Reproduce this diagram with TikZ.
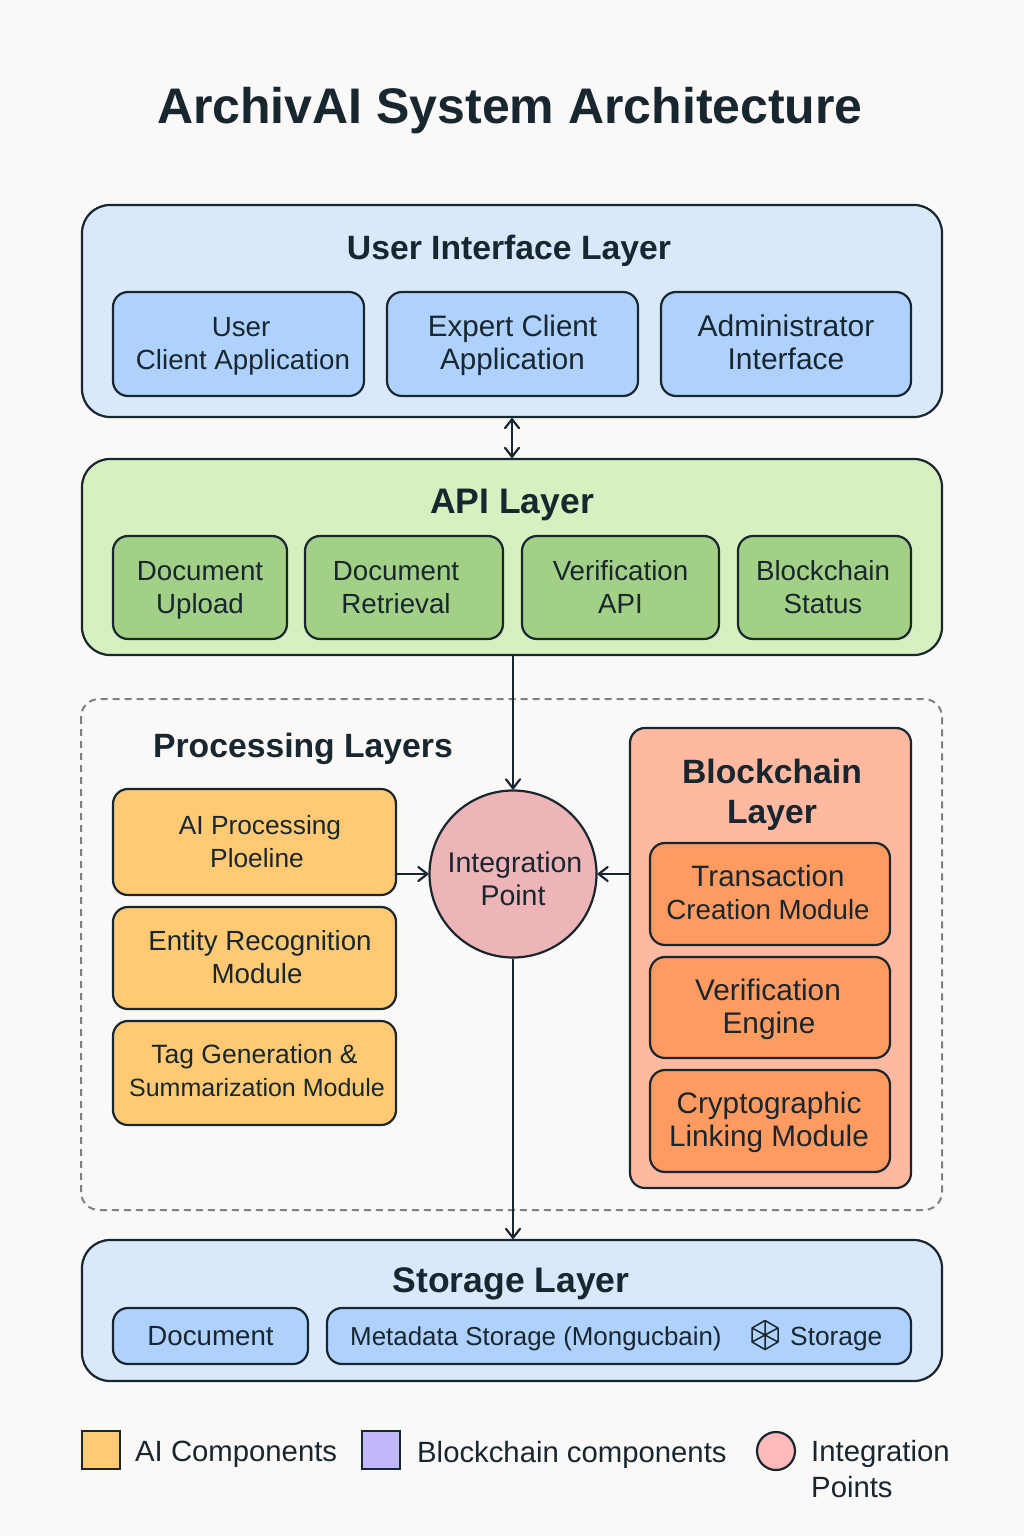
\documentclass[tikz,border=0pt]{standalone}
\usepackage{fontspec}
\setmainfont{Liberation Sans}
\usetikzlibrary{arrows.meta,calc}
\definecolor{bg}{HTML}{FBF9F7}
\definecolor{ink}{HTML}{18262F}
\definecolor{uilayer}{HTML}{D9E8FB}
\definecolor{uibox}{HTML}{AED1FD}
\definecolor{apilayer}{HTML}{D6F0C0}
\definecolor{apibox}{HTML}{A3D087}
\definecolor{aibox}{HTML}{FFCA73}
\definecolor{bclayer}{HTML}{FFB9A0}
\definecolor{bcbox}{HTML}{FF9A60}
\definecolor{ipfill}{HTML}{EDB5B8}
\definecolor{legpurple}{HTML}{C0B8F8}
\definecolor{legpink}{HTML}{FDBABA}
\definecolor{dashgray}{HTML}{808080}
\newcommand{\fsz}[1]{\fontsize{#1}{33}\selectfont}
\tikzset{
  x=1pt,y=-1pt,
  boxbase/.style={draw=ink,line width=2.2pt,rounded corners=15pt,inner sep=0pt,text=ink,align=center,font=\fontsize{27.7}{33}\selectfont},
  layerbox/.style={boxbase,rounded corners=28pt,line width=2.2pt},
  uiinner/.style={boxbase,fill=uibox},
  apiinner/.style={boxbase,fill=apibox},
  aiinner/.style={boxbase,fill=aibox},
  bcinner/.style={boxbase,fill=bcbox},
  layertitle/.style={text=ink,font=\fontsize{33.7}{40}\selectfont\bfseries,align=center,inner sep=0pt,anchor=base},
  bigtitle/.style={layertitle,font=\fontsize{35.5}{40}\selectfont\bfseries},
  plaintext/.style={text=ink,font=\fontsize{29.3}{36}\selectfont,align=left,inner sep=0pt,anchor=base west},
  inlinetext/.style={text=ink,inner sep=0pt,anchor=base west},
  flow/.style={draw=ink,line width=2.2pt,-{Straight Barb[length=9pt,width=14pt,line width=2.2pt,round]}},
  bothflow/.style={draw=ink,line width=2.2pt,{Straight Barb[length=9pt,width=14pt,line width=2.2pt,round]}-{Straight Barb[length=9pt,width=14pt,line width=2.2pt,round]}},
}
\newcommand{\boxat}[7]{\node[#1,minimum width=#5-#3,minimum height=#6-#4] (#2) at ({(#3+#5)/2},{(#4+#6)/2}) {\rule{0pt}{28.5pt}#7\strut};}
\begin{document}
\begin{tikzpicture}
\useasboundingbox[fill=bg] (0,0) rectangle (1024,1536);
\node[text=ink,font=\fontsize{50}{60}\selectfont\bfseries,inner sep=0pt,anchor=base] (title) at (510,124) {ArchivAI System Architecture};

% UI layer
\boxat{layerbox,fill=uilayer}{ui}{82}{205}{942}{417}{}
\node[layertitle] (uit) at (509,259) {User Interface Layer};
\boxat{uiinner}{u1}{113}{292}{364}{396}{\hspace*{5pt}User\\\hspace*{9pt}Client Application}
\boxat{uiinner,font=\fsz{29.6}}{u2}{387}{292}{638}{396}{Expert Client\\Application}
\boxat{uiinner,font=\fsz{30}}{u3}{661}{292}{911}{396}{Administrator\\Interface}

% API layer
\boxat{layerbox,fill=apilayer}{api}{82}{459}{942}{655}{}
\node[bigtitle] (apit) at (512,513) {API Layer};
\boxat{apiinner}{a1}{113}{536}{287}{639}{Document\\Upload}
\boxat{apiinner}{a2}{305}{536}{503}{639}{Document\hspace*{16pt}\\Retrieval\hspace*{16pt}}
\boxat{apiinner}{a3}{522}{536}{719}{639}{Verification\\API}
\boxat{apiinner}{a4}{738}{536}{911}{639}{Blockchain\hspace*{3pt}\\Status\hspace*{3pt}}

% Processing group
\draw[dashgray,line width=2pt,dash pattern=on 7pt off 5pt,rounded corners=18pt] (81,699) rectangle (942,1210);
\node[layertitle] (proct) at (303,757) {Processing Layers};
\boxat{aiinner,font=\fsz{26.3}}{p1}{113}{789}{396}{895}{\hspace*{11pt}AI Processing\\\hspace*{5pt}Ploeline}
\boxat{aiinner}{p2}{113}{907}{396}{1009}{\hspace*{11pt}Entity Recognition\\\hspace*{5pt}Module}
\boxat{aiinner}{p3}{113}{1021}{396}{1125}{\fsz{26.5}Tag Generation \&\\\hspace*{5pt}\fsz{25}Summarization Module\rule[-15.3pt]{0pt}{1pt}}

% Blockchain layer
\boxat{boxbase,fill=bclayer}{bc}{630}{728}{911}{1188}{}
\node[layertitle] (bct) at (772,823) {Blockchain\\Layer};
\boxat{bcinner}{b1}{650}{843}{890}{945}{\fsz{29.5}Transaction\hspace*{4pt}\\\fsz{27.7}Creation Module\hspace*{4pt}}
\boxat{bcinner,font=\fsz{29.8}}{b2}{650}{957}{890}{1058}{Verification\hspace*{4pt}\\Engine\hspace*{2pt}}
\boxat{bcinner,font=\fsz{29.7}}{b3}{650}{1070}{890}{1172}{Cryptographic\hspace*{2pt}\\Linking Module\hspace*{2pt}}

% Integration
\node[draw=ink,line width=2.2pt,circle,fill=ipfill,minimum size=167pt,inner sep=0pt,text=ink,align=center,font=\fontsize{28.5}{33}\selectfont] (ip) at (513,874) {\rule{0pt}{40pt}\hspace*{4pt}Integration\\Point\strut};

% Storage layer
\boxat{layerbox,fill=uilayer}{st}{82}{1240}{942}{1381}{}
\node[bigtitle] (stt) at (511,1292) {Storage Layer};
\boxat{uiinner}{s1}{113}{1308}{308}{1364}{Document}
\boxat{uiinner}{s2}{327}{1308}{911}{1364}{}
\node[inlinetext,font=\fontsize{25.9}{33}\selectfont] (s2a) at (350,1345) {Metadata Storage (Mongucbain)};
\node[inlinetext,font=\fontsize{26.3}{33}\selectfont] (s2b) at (790,1345) {Storage};
% cube icon
\begin{scope}[draw=ink,line width=1.5pt,line join=round]
\draw (765,1320.5) -- (778,1328) -- (778,1342) -- (765,1349.5) -- (752,1342) -- (752,1328) -- cycle;
\draw (752,1328) -- (765,1335) -- (778,1328) (765,1335) -- (765,1349.5) (752,1342) -- (765,1335) -- (778,1342) (765,1320.5) -- (765,1335);
\end{scope}

% connectors
\draw[bothflow] (ui.south) -- (api.north);
\draw[flow] (api.south -| ip.north) -- (ip.north);
\draw[flow] (ip.south) -- (st.north -| ip.south);
\draw[flow] (ip.west -| p1.east) -- (ip.west);
\draw[flow] (ip.east -| bc.west) -- (ip.east);

% legend
\node[draw=ink,line width=2.2pt,fill=aibox,minimum size=38pt,inner sep=0pt] (l1) at (101,1450) {};
\node[plaintext] (l1t) at (135,1461) {AI Components};
\node[draw=ink,line width=2.2pt,fill=legpurple,minimum size=38pt,inner sep=0pt] (l2) at (381,1450) {};
\node[plaintext] (l2t) at (417,1462) {Blockchain components};
\node[draw=ink,line width=2.2pt,circle,fill=legpink,minimum size=38pt,inner sep=0pt] (l3) at (776,1451) {};
\node[plaintext] (l3t) at (811,1497) {Integration\\Points};
\end{tikzpicture}
\end{document}
